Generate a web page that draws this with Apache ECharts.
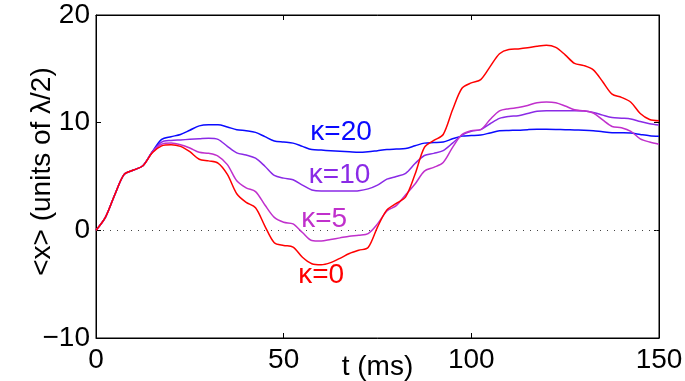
<!DOCTYPE html>
<html>
<head>
<meta charset="utf-8">
<script src="https://cdn.jsdelivr.net/npm/echarts@6/dist/echarts.min.js"></script>
<style>
html,body{margin:0;padding:0;background:#fff;}
#chart{width:685px;height:381px;}
</style>
</head>
<body>
<div id="chart"></div>
<script>
// time axis (ms)
const tValues = [0,2.5,5,7.5,10,12.5,15,17.5,20,22.5,25,27.5,30,32.5,35,37.5,40,42.5,45,47.5,50,52.5,55,57.5,60,62.5,65,67.5,70,72.5,75,77.5,80,82.5,85,87.5,90,92.5,95,97.5,100,102.5,105,107.5,110,112.5,115,117.5,120,122.5,125,127.5,130,132.5,135,137.5,140,142.5,145,147.5,150];

const kappa20 = [0,1.2,3.3,5.2,5.6,6.0,7.3,8.45,8.7,8.9,9.3,9.7,9.8,9.8,9.6,9.35,9.25,9.1,8.7,8.3,8.2,8.1,7.8,7.5,7.45,7.4,7.35,7.3,7.25,7.3,7.4,7.5,7.55,7.6,7.85,8.1,8.15,8.2,8.5,8.75,8.8,8.85,9.05,9.25,9.28,9.3,9.35,9.38,9.38,9.37,9.35,9.32,9.3,9.25,9.15,9.07,9.06,9.03,8.9,8.78,8.73];

const kappa10 = [0,1.2,3.3,5.2,5.6,6.0,7.3,8.2,8.35,8.4,8.45,8.5,8.55,8.45,7.8,7.2,7.0,6.7,5.95,5.1,4.85,4.7,4.2,3.75,3.65,3.65,3.65,3.65,3.68,3.85,4.2,4.75,5.0,5.3,6.2,6.95,7.15,7.4,8.1,8.85,9.2,9.35,9.9,10.4,10.58,10.65,10.85,11.05,11.1,11.1,11.1,11.1,11.08,10.95,10.7,10.48,10.42,10.35,10.1,9.9,9.78];

const kappa5 = [0,1.2,3.3,5.2,5.6,6.0,7.25,8.0,8.1,7.95,7.65,7.25,7.15,6.9,6.1,4.6,3.95,3.6,2.35,1.2,0.75,0.6,-0.2,-0.95,-1.0,-0.85,-0.7,-0.55,-0.45,-0.3,0.6,1.8,2.3,3.3,4.3,5.5,5.85,6.3,7.7,8.9,9.25,9.35,10.3,11.1,11.3,11.4,11.6,11.85,11.92,11.85,11.55,11.2,11.1,10.9,10.25,9.65,9.53,9.2,8.5,8.2,8.0];

const kappa0 = [0,1.2,3.3,5.2,5.6,6.0,7.2,7.85,7.95,7.8,7.3,6.6,6.45,6.25,5.2,3.4,2.6,2.1,0.4,-1.15,-1.4,-1.55,-2.5,-3.1,-3.2,-3.0,-2.6,-2.15,-1.85,-1.6,0.3,1.9,2.5,3.1,5.2,7.7,8.35,8.9,11.2,13.2,13.7,14.0,15.2,16.4,16.8,16.85,16.95,17.1,17.2,17.0,16.3,15.5,15.3,14.9,13.8,12.65,12.35,11.9,10.85,10.3,10.18];

const xTicks = [0, 50, 100, 150];
const yTicks = [-10, 0, 10, 20];

const seriesNames = ['κ=20', 'κ=10', 'κ=5', 'κ=0'];
const seriesValues = [kappa20, kappa10, kappa5, kappa0];
const seriesColors = ['#0a0aff', '#8a2ae6', '#c030cc', '#ff0000'];
// label anchor points in data coordinates [t, x]
const labelAnchors = [[65.3, 9.13], [64.9, 5.13], [60.8, 1.05], [60.0, -4.15]];

const FONT = '"Liberation Sans", Arial, Helvetica, sans-serif';
const FS = 28;

const chart = echarts.init(document.getElementById('chart'), null, {renderer: 'canvas'});

const series = seriesValues.map((vals, i) => {
  const s = {
    name: seriesNames[i],
    type: 'line',
    xAxisIndex: 0,
    yAxisIndex: 0,
    data: tValues.map((t, k) => [t, vals[k]]),
    showSymbol: false,
    symbol: 'none',
    smooth: 0.3,
    lineStyle: {color: seriesColors[i], width: 1.5},
    itemStyle: {color: seriesColors[i]},
    z: 3 + i,
    animation: false,
    markPoint: {
      silent: true,
      symbol: 'circle',
      symbolSize: 0,
      data: [{coord: labelAnchors[i], value: seriesNames[i]}],
      label: {
        show: true,
        position: 'inside',
        formatter: seriesNames[i],
        color: seriesColors[i],
        fontSize: FS,
        fontFamily: FONT
      }
    }
  };
  if (i === 0) {
    s.markLine = {
      silent: true,
      symbol: 'none',
      label: {show: false},
      lineStyle: {type: [1, 6], color: '#444', width: 1},
      data: [{yAxis: 0}]
    };
  }
  return s;
});

const axisCommonX = {
  type: 'value',
  min: xTicks[0],
  max: xTicks[xTicks.length - 1],
  interval: xTicks[1] - xTicks[0],
  splitLine: {show: false},
  axisLine: {show: true, onZero: false, lineStyle: {color: '#000', width: 1}},
  axisTick: {show: true, inside: true, length: 5, lineStyle: {color: '#000'}}
};
const axisCommonY = {
  type: 'value',
  min: yTicks[0],
  max: yTicks[yTicks.length - 1],
  interval: yTicks[1] - yTicks[0],
  splitLine: {show: false},
  axisLine: {show: true, onZero: false, lineStyle: {color: '#000', width: 1}},
  axisTick: {show: true, inside: true, length: 5, lineStyle: {color: '#000'}}
};

chart.setOption({
  backgroundColor: '#fff',
  animation: false,
  grid: {left: 96, right: 26, top: 15, bottom: 43, show: true, borderColor: '#000', borderWidth: 1, containLabel: false, outerBoundsMode: 'none'},
  xAxis: [
    Object.assign({}, axisCommonX, {
      position: 'bottom',
      name: 't (ms)',
      nameLocation: 'middle',
      nameGap: 15,
      nameMoveOverlap: false,
      nameTextStyle: {fontSize: FS, fontFamily: FONT, color: '#000', verticalAlign: 'top'},
      axisLabel: {show: true, margin: 8, fontSize: FS, fontFamily: FONT, color: '#000'}
    }),
    Object.assign({}, axisCommonX, {
      position: 'top',
      axisLabel: {show: false}
    })
  ],
  yAxis: [
    Object.assign({}, axisCommonY, {
      position: 'left',
      name: '<x> (units of λ/2)',
      nameLocation: 'middle',
      nameGap: 40,
      nameMoveOverlap: false,
      nameTextStyle: {fontSize: FS, fontFamily: FONT, color: '#000', padding: [0, 0, 0, 10]},
      axisLabel: {show: true, margin: 6, fontSize: FS, fontFamily: FONT, color: '#000',
        formatter: v => String(v).replace('-', '\u2212')}
    }),
    Object.assign({}, axisCommonY, {
      position: 'right',
      axisLabel: {show: false}
    })
  ],
  series: series
});
</script>
</body>
</html>
